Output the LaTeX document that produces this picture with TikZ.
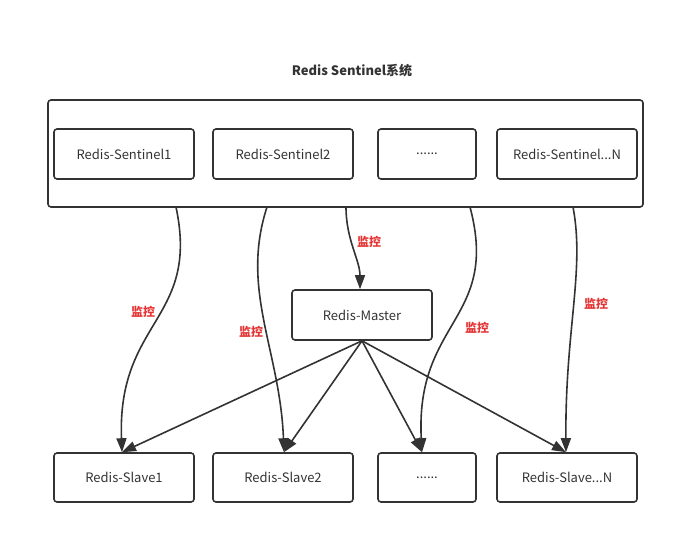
\documentclass[tikz,border=0pt]{standalone}
\usepackage{fontspec}
\setmainfont{Noto Sans CJK SC}
\usetikzlibrary{arrows.meta}
\definecolor{linegray}{HTML}{333333}
\definecolor{labelred}{HTML}{E53333}

\begin{document}
\begin{tikzpicture}[x=1pt, y=-1pt,
  box/.style={draw=linegray, line width=1.6pt, rounded corners=3pt, minimum width=140pt, minimum height=50pt, inner sep=0pt, text=linegray, font=\fontsize{13}{15}\selectfont},
  link/.style={draw=linegray, line width=1.6pt, -{Triangle[length=14pt, width=10pt]}},
  watch/.style={text=labelred, font=\bfseries\fontsize{12}{14}\selectfont}]
\useasboundingbox (0,0) rectangle (675,535);

% Sentinel system
\node[text=linegray, font=\bfseries\fontsize{13}{15}\selectfont] (title) at (352,71) {Redis Sentinel系统};
\node[box, minimum width=595pt, minimum height=107pt] (outer) at (345.5,153.5) {};
\node[box] (s1) at (124,154) {Redis-Sentinel1};
\node[box] (s2) at (283,154) {Redis-Sentinel2};
\node[box, minimum width=98pt] (s3) at (427,154) {......};
\node[box] (s4) at (567,154) {Redis-Sentinel...N};

% Master
\node[box] (master) at (362,315) {Redis-Master};

% Slaves
\node[box, minimum height=49pt] (sl1) at (124,477.5) {Redis-Slave1};
\node[box, minimum height=49pt] (sl2) at (283,477.5) {Redis-Slave2};
\node[box, minimum height=49pt, minimum width=98pt] (sl3) at (427,477.5) {......};
\node[box, minimum height=49pt] (sl4) at (567,477.5) {Redis-Slave...N};

% arrow ends
\coordinate (o1) at (176,207);
\coordinate (o2) at (267,207);
\coordinate (o3) at (346,207);
\coordinate (o4) at (470,207);
\coordinate (o5) at (573,207);
\coordinate (t1) at ([xshift=-2pt]sl1.north);
\coordinate (t2) at ([xshift=1pt]sl2.north);
\coordinate (t3) at ([xshift=-5pt]sl3.north);
\coordinate (t4) at ([xshift=-1pt]sl4.north);

% monitoring
\draw[link] (o1) .. controls (200,320) and (117,320) .. (t1);
\draw[link] (o2) .. controls (240,290) and (280,350) .. (t2);
\draw[link] (o3) .. controls (346,240) and (360,260) .. ([xshift=-2pt]master.north);
\draw[link] (o4) .. controls (500,320) and (415,320) .. (t3);
\draw[link] (o5) .. controls (585,270) and (565,330) .. (t4);

\node[watch] (w1) at (143,312) {监控};
\node[watch] (w2) at (251,332) {监控};
\node[watch] (w3) at (369,242) {监控};
\node[watch] (w4) at (477,328) {监控};
\node[watch] (w5) at (596,304) {监控};

% replication
\draw[link] (master.south) -- (t1);
\draw[link] (master.south) -- (t2);
\draw[link] (master.south) -- (t3);
\draw[link] (master.south) -- (t4);
\end{tikzpicture}
\end{document}
